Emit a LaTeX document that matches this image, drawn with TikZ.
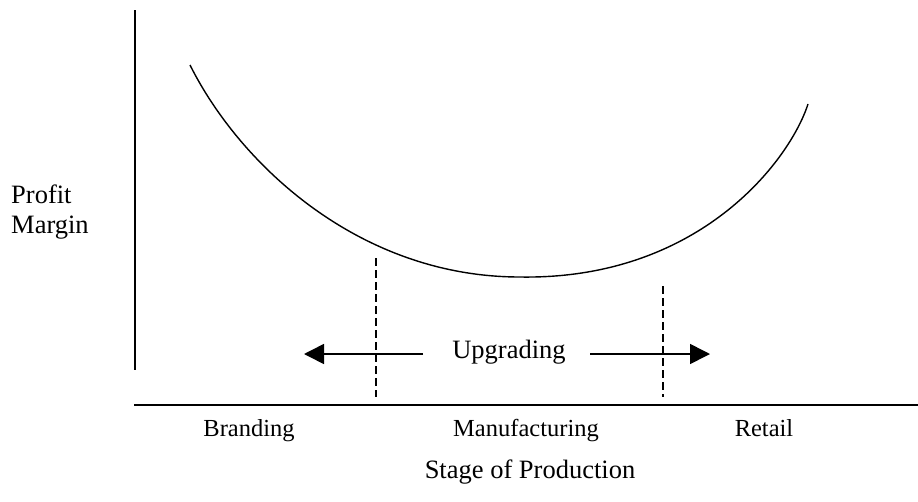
\documentclass[tikz,border=0pt]{standalone}
\usepackage{fontspec}
\setmainfont{Liberation Serif}
\usepackage{tikz}
\usetikzlibrary{arrows.meta}
\usetikzlibrary{positioning, calc}

\tikzset{
    axisline/.style={line width=2pt},
    smilecurve/.style={line width=1.4pt},
    divider/.style={line width=1.1pt, dash pattern=on 8pt off 4pt},
    upgarrow/.style={line width=1.6pt, -{Triangle[length=20pt,width=20pt]}},
    biglabel/.style={inner sep=0pt, font=\fontsize{26.5}{30}\selectfont},
    stagelabel/.style={inner sep=0pt, font=\fontsize{24.5}{28}\selectfont}
}

\begin{document}
\begin{tikzpicture}[x=1pt, y=-1pt]
                \useasboundingbox (0,0) rectangle (918,501);
                % Axes
                \coordinate (ytop) at (135,10);
                \coordinate (ybot) at (135,370);
                \coordinate (xleft) at (134,405);
                \coordinate (xright) at (918,405);
                \draw[axisline] (ytop) -- (ybot);
                \draw[axisline] (xleft) -- (xright);
                % Smile curve
                \coordinate (cstart) at (190,65);
                \coordinate (cbottom) at (520,277);
                \coordinate (cend) at (808,104);
                \draw[smilecurve] (cstart) .. controls (240,165) and (360,277) .. (cbottom)
                    .. controls (700,280) and (790,160) .. (cend);
                % Dashed dividers
                \coordinate (dlt) at (376,258);
                \coordinate (dlb) at (376,397);
                \coordinate (drt) at (663,286);
                \coordinate (drb) at (663,397);
                \draw[divider] (dlt) -- (dlb);
                \draw[divider] (drt) -- (drb);
                % Upgrading arrows
                \node[biglabel, anchor=base] (upg) at (509,358) {Upgrading};
                \coordinate (lstart) at (423,354);
                \coordinate (ltip) at (304,354);
                \coordinate (rstart) at (590,354);
                \coordinate (rtip) at (710,354);
                \draw[upgarrow] (lstart) -- (ltip);
                \draw[upgarrow] (rstart) -- (rtip);
                % Axis labels
                \node[biglabel, anchor=base west] (profit) at (11,203) {Profit};
                \node[biglabel, anchor=base west] (margin) at (11,233) {Margin};
                \foreach \x/\name in {249/Branding, 526/Manufacturing, 764/Retail} {
                    \node[stagelabel, anchor=base] (\name) at (\x,436) {\name};
                }
                \node[biglabel, anchor=base] (stage) at (530,478) {Stage of Production};
            \end{tikzpicture}
\end{document}
